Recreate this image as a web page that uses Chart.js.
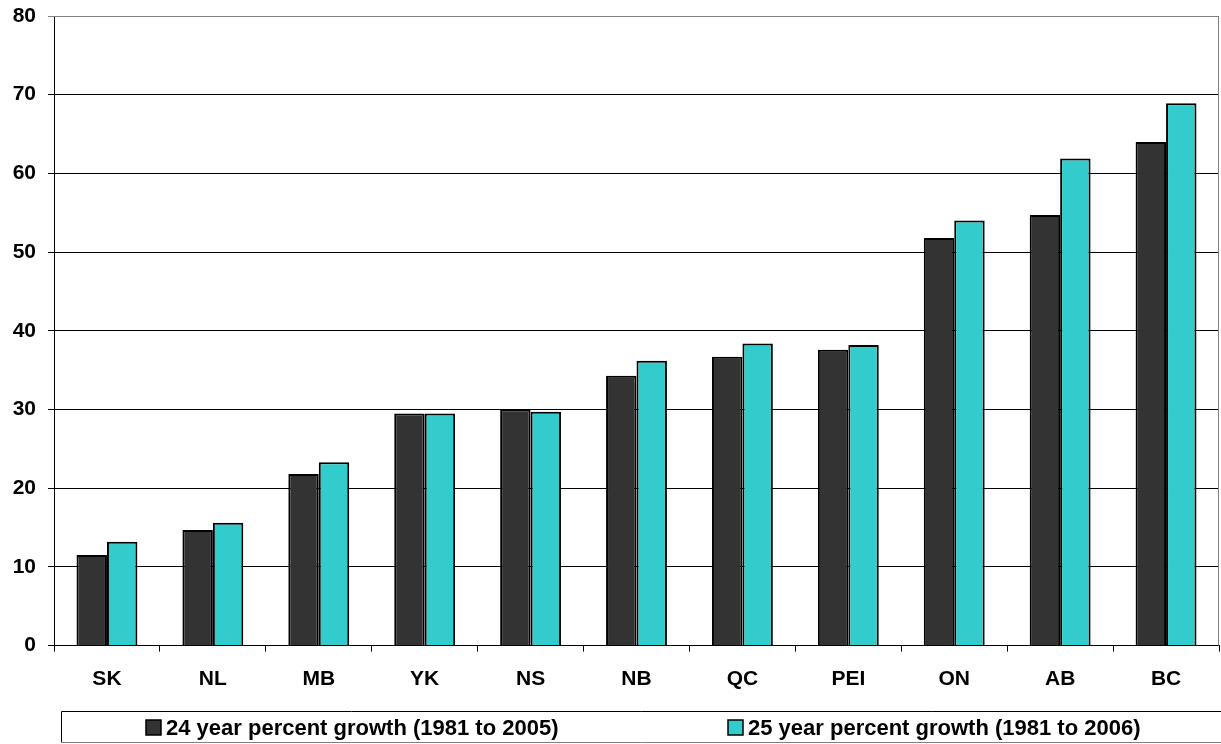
<!DOCTYPE html>
<html>
<head>
<meta charset="utf-8">
<script src="https://cdn.jsdelivr.net/npm/chart.js@4"></script>
<style>
  html, body { margin: 0; padding: 0; background: #fff; overflow: hidden; }
  #wrap { width: 1221px; height: 744px; }
</style>
</head>
<body>
<div id="wrap"><canvas id="c" width="1221" height="744"></canvas></div>
<script>
// Provinces / territories, ordered by growth
const categories = ['SK', 'NL', 'MB', 'YK', 'NS', 'NB', 'QC', 'PEI', 'ON', 'AB', 'BC'];
const growth24 = [11.5, 14.7, 21.8, 29.5, 30.0, 34.3, 36.7, 37.6, 51.8, 54.7, 64.0];
const growth25 = [13.2, 15.6, 23.3, 29.5, 29.7, 36.2, 38.4, 38.2, 54.0, 61.9, 68.9];
const seriesLabels = ['24 year percent growth (1981 to 2005)', '25 year percent growth (1981 to 2006)'];
const yTicks = [0, 10, 20, 30, 40, 50, 60, 70, 80];

const FONT = 'Arial, "Liberation Sans", sans-serif';

// Boxed legend along the bottom, plus the grey plot frame on top/right
const frameAndLegend = {
  id: 'frameAndLegend',
  afterDraw(chart, args, opts) {
    const ctx = chart.ctx;
    const a = chart.chartArea;
    ctx.save();
    ctx.strokeStyle = '#808080';
    ctx.lineWidth = 1;
    ctx.beginPath();
    ctx.moveTo(a.left, a.top + 0.5);
    ctx.lineTo(a.right - 0.5, a.top + 0.5);
    ctx.lineTo(a.right - 0.5, a.bottom);
    ctx.stroke();

    // legend box (runs off the right edge)
    ctx.strokeStyle = '#000';
    ctx.beginPath();
    ctx.moveTo(opts.box.x + opts.box.w, opts.box.y + 0.5);
    ctx.lineTo(opts.box.x + 0.5, opts.box.y + 0.5);
    ctx.lineTo(opts.box.x + 0.5, opts.box.y + opts.box.h + 0.5);
    ctx.stroke();
    ctx.strokeStyle = '#808080';
    ctx.beginPath();
    ctx.moveTo(opts.box.x + 0.5, opts.box.y + opts.box.h + 0.5);
    ctx.lineTo(opts.box.x + opts.box.w, opts.box.y + opts.box.h + 0.5);
    ctx.stroke();

    ctx.font = 'bold 22px ' + FONT;
    ctx.textBaseline = 'middle';
    ctx.textAlign = 'left';
    const cy = opts.box.y + opts.box.h / 2 + 1;
    chart.data.datasets.forEach((ds, i) => {
      const x = opts.itemX[i];
      ctx.fillStyle = ds.backgroundColor;
      ctx.fillRect(x, cy - 7.5, 15, 15);
      ctx.strokeStyle = '#000';
      ctx.lineWidth = 1.5;
      ctx.strokeRect(x, cy - 7.5, 15, 15);
      ctx.fillStyle = '#000';
      ctx.fillText(ds.label, x + 20, cy + 1);
    });
    ctx.restore();
  }
};

new Chart(document.getElementById('c'), {
  type: 'bar',
  data: {
    labels: categories,
    datasets: [
      { label: seriesLabels[0], data: growth24, backgroundColor: '#333333', borderColor: '#000', borderWidth: 2 },
      { label: seriesLabels[1], data: growth25, backgroundColor: '#33CCCC', borderColor: '#000', borderWidth: 2 }
    ]
  },
  options: {
    responsive: false,
    animation: false,
    devicePixelRatio: 1,
    layout: { padding: { top: 16, right: 2, left: 0, bottom: 0 } },
    datasets: { bar: { categoryPercentage: 0.575, barPercentage: 1.0 } },
    plugins: {
      legend: { display: false },
      tooltip: { enabled: false },
      frameAndLegend: {
        box: { x: 61, y: 711, w: 1170, h: 31 },
        itemX: [146, 728]
      }
    },
    scales: {
      x: {
        afterFit(scale) { scale.height = 98.4; scale.paddingLeft = 0; scale.paddingRight = 0; },
        grid: { display: true, drawOnChartArea: false, drawTicks: true, tickLength: 6, color: '#000', offset: true },
        border: { display: true, color: '#000', width: 1 },
        ticks: { color: '#000', font: { family: FONT, size: 21, weight: 'bold' }, padding: 15, maxRotation: 0 }
      },
      y: {
        min: 0, max: 80,
        afterFit(scale) { scale.width = 54; scale.paddingTop = 0; scale.paddingBottom = 0; },
        afterBuildTicks(scale) { scale.ticks = yTicks.map(v => ({ value: v })); },
        grid: {
          color: ctx => (ctx.tick && ctx.tick.value === 80) ? '#808080' : '#000',
          lineWidth: 1, drawTicks: true, tickLength: 6
        },
        border: { display: true, color: '#000', width: 1 },
        ticks: { color: '#000', font: { family: FONT, size: 21, weight: 'bold' }, padding: 12, stepSize: 10 }
      }
    }
  },
  plugins: [frameAndLegend]
});
</script>
</body>
</html>
